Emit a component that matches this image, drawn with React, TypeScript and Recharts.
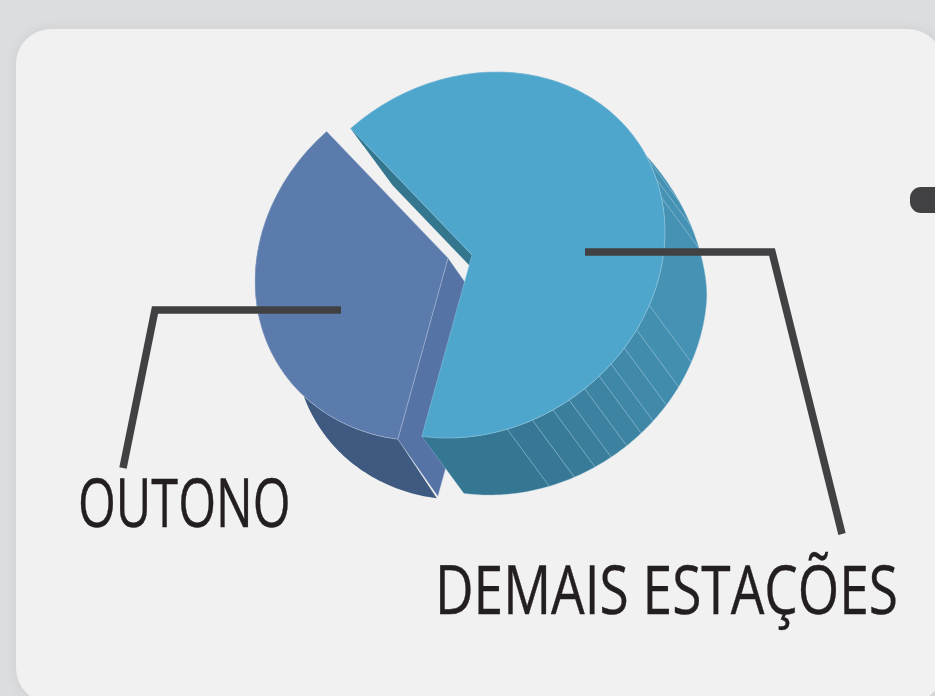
import React from "react";
import { PieChart, Pie, Sector } from "recharts";

const seasons = ["OUTONO", "DEMAIS ESTAÇÕES"];
const shares = [35, 65];
const data = seasons.map((name, i) => ({ name, value: shares[i] }));

// tilt of the disc: unit circle -> screen ellipse
const TILT = { a: 1.0137, b: -0.0632, c: -0.0632, d: 0.961 };
const DEPTH = { x: 42, y: 57 };
const OUTONO_DEPTH = { x: 39, y: 59 };
const OUTONO_CUT_DEPTH = { x: 40, y: 57 };
const OUTONO_SHIFT = { x: -24, y: 3 };

const FACET_BREAKS = [284.1, 291.8, 298.4, 303.8, 309.3, 314.8, 319.7, 325.7, 332.1, 340.3, 374.6, 380.9, 388.1];
const FACET_COLORS = [
  "#357692", "#367896", "#387b98", "#3a7e9c", "#3c819f", "#3d84a3", "#3f87a6", "#4089a9",
  "#418cac", "#438faf", "#4592b4", "#4592b4", "#4491b3", "#4390b2",
];

type Vec = { x: number; y: number };

const rad = (deg: number) => (deg * Math.PI) / 180;

const onDisc = (cx: number, cy: number, r: number, deg: number, dx = 0, dy = 0) => {
  const u = r * Math.cos(rad(deg));
  const v = -r * Math.sin(rad(deg));
  return [cx + dx + TILT.a * u + TILT.b * v, cy + dy + TILT.c * u + TILT.d * v];
};

const toPath = (pts: number[][]) =>
  "M" + pts.map((p) => `${p[0].toFixed(2)},${p[1].toFixed(2)}`).join("L") + "Z";

// the far side of the rim foreshortens, so the wall gets thinner past 0 degrees
const wallDepth = (deg: number) => {
  const past = Math.max(0, deg - 360);
  return past === 0 ? 1 : Math.max(0.3, 1 - (0.012 * past * past) / (past + 10));
};

const rimPath = (cx: number, cy: number, r: number, from: number, to: number, dx: number, dy: number, depth: Vec) => {
  const top: number[][] = [];
  const bottom: number[][] = [];
  const steps = Math.max(2, Math.ceil(to - from));
  for (let i = 0; i <= steps; i++) {
    const deg = from + ((to - from) * i) / steps;
    const p = onDisc(cx, cy, r, deg, dx, dy);
    const k = wallDepth(deg);
    top.push(p);
    bottom.push([p[0] + depth.x * k, p[1] + depth.y * k]);
  }
  return toPath([...top, ...bottom.reverse()]);
};

const cutPath = (cx: number, cy: number, r: number, deg: number, dx: number, dy: number, depth: Vec) => {
  const apex = [cx + dx, cy + dy];
  const edge = onDisc(cx, cy, r, deg, dx, dy);
  return toPath([apex, edge, [edge[0] + depth.x, edge[1] + depth.y], [apex[0] + depth.x, apex[1] + depth.y]]);
};

const Slice3D = (props: any) => {
  const { cx, cy, outerRadius: r, startAngle, endAngle } = props;
  const name = props.name ?? props.payload?.name;
  const isOutono = name === seasons[0];
  const dx = isOutono ? OUTONO_SHIFT.x : 0;
  const dy = isOutono ? OUTONO_SHIFT.y : 0;
  const e = cx + dx - TILT.a * cx - TILT.b * cy;
  const f = cy + dy - TILT.c * cx - TILT.d * cy;
  const lo = Math.min(startAngle, endAngle);
  const hi = Math.max(startAngle, endAngle);

  const stops = [lo, ...FACET_BREAKS, hi];
  return (
    <g>
      {isOutono ? (
        <>
          <path d={rimPath(cx, cy, r, lo, hi, dx, dy, OUTONO_DEPTH)} fill="#3f5a80" />
          <path d={cutPath(cx, cy, r, hi, dx, dy, OUTONO_CUT_DEPTH)} fill="#5673a6" stroke="#a9bad6" strokeWidth={0.4} />
        </>
      ) : (
        <>
          {FACET_COLORS.map((c, i) => (
            <path
              key={i}
              d={rimPath(cx, cy, r, stops[i], stops[i + 1], dx, dy, DEPTH)}
              fill={c}
              stroke="#8dbdd4"
              strokeWidth={0.4}
            />
          ))}
          <path d={cutPath(cx, cy, r, hi, dx, dy, DEPTH)} fill="#35768f" />
        </>
      )}
      <g transform={`matrix(${TILT.a} ${TILT.c} ${TILT.b} ${TILT.d} ${e} ${f})`}>
        <Sector
          cx={cx}
          cy={cy}
          innerRadius={0}
          outerRadius={r}
          startAngle={startAngle}
          endAngle={endAngle}
          fill={isOutono ? "#5b7bad" : "#4fa6cc"}
          stroke={isOutono ? "#a9bad6" : "#8cc6df"}
          strokeWidth={0.5}
        />
      </g>
    </g>
  );
};

const Callout = (props: any) => {
  const isOutono = (props.name ?? props.payload?.name) === seasons[0];
  const common = { fill: "#231f20", stroke: "#231f20", strokeWidth: 0.4, fontFamily: "'Open Sans'", fontSize: 68 };
  return isOutono ? (
    <g>
      <polyline points="341,310 155,310 123,468" fill="none" stroke="#414042" strokeWidth={7.5} />
      <text transform="translate(78,527) scale(0.716,1)" {...common}>
        {seasons[0]}
      </text>
    </g>
  ) : (
    <g>
      <polyline points="585,252 772,252 842,534" fill="none" stroke="#414042" strokeWidth={7.5} />
      <text transform="translate(435,614) scale(0.783,1)" {...common}>
        {seasons[1]}
      </text>
    </g>
  );
};

export default function App() {
  return (
    <div style={{ position: "fixed", left: 0, top: 0, width: 935, height: 696, overflow: "hidden", background: "#dcddde" }}>
      <div
        style={{
          position: "absolute",
          left: 16,
          top: 29,
          width: 927,
          height: 674,
          borderRadius: 35,
          background: "#f1f1f2",
          boxShadow: "0 0 14px rgba(0,0,0,0.07)",
        }}
      />
      <div
        style={{ position: "absolute", left: 910, top: 187, width: 60, height: 26, borderRadius: 11, background: "#414042" }}
      />
      <div style={{ position: "absolute", left: 0, top: 0 }}>
        <PieChart width={935} height={696} margin={{ top: 0, right: 0, bottom: 0, left: 0 }}>
          <Pie
            data={data}
            dataKey="value"
            nameKey="name"
            cx={472}
            cy={255}
            innerRadius={0}
            outerRadius={190}
            startAngle={132.5}
            endAngle={492.5}
            stroke="none"
            shape={Slice3D}
            label={Callout}
            labelLine={false}
            isAnimationActive={false}
          />
        </PieChart>
      </div>
    </div>
  );
}
